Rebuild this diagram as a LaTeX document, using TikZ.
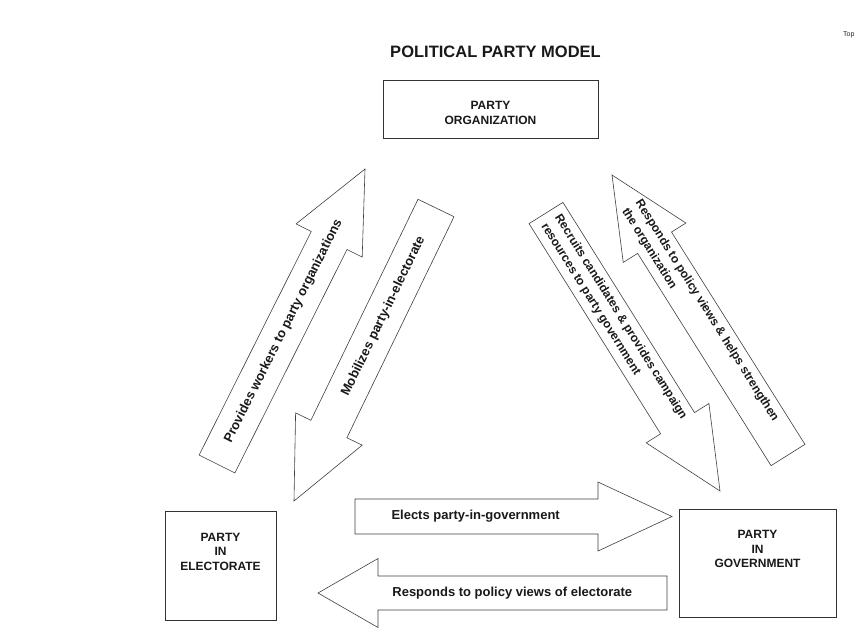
\documentclass[tikz,border=0pt]{standalone}
\usepackage{fontspec}
\setmainfont{Liberation Sans}
\usetikzlibrary{calc}

% block arrow from tail #1 to tip #2: half shaft #3, half head #4, head length #5
\newcommand\blockarrow[5]{%
  \coordinate (#1-hb) at ($(#2)!#5!(#1)$);
  \draw[bigarrow] ($(#1)!#3!90:(#2)$) -- ($(#1-hb)!#3!90:(#2)$)
    -- ($(#1-hb)!#4!90:(#2)$) -- (#2) -- ($(#1-hb)!#4!-90:(#2)$)
    -- ($(#1-hb)!#3!-90:(#2)$) -- ($(#1)!#3!-90:(#2)$) -- cycle;
}

\begin{document}
\begin{tikzpicture}[x=1pt, y=-1pt,
    partybox/.style={draw=black!80, line width=0.8pt, inner sep=0pt},
    boxtext/.style={font=\fontsize{12}{14.5}\selectfont\bfseries, align=center, text=black!90},
    arrowtext/.style={font=\fontsize{13}{14}\selectfont\bfseries, text=black!90},
    twolines/.style={font=\fontsize{12}{16}\selectfont\bfseries, align=left},
    bigarrow/.style={draw=black!75, line width=0.6pt, line join=miter}]
    \path[use as bounding box, fill=white] (0,0) rectangle (856,638);

    % --- sizes of the slanted arrows ---
    \def\shaft{20pt}
    \def\head{37pt}
    \def\hlen{80pt}

    % --- title ---
    \node[font=\fontsize{16.5}{18}\selectfont\bfseries, text=black!90] (title) at (495.5,52) {POLITICAL PARTY MODEL};
    \node[font=\fontsize{7}{8}\selectfont, anchor=west, inner sep=0pt, text=black!85] (top) at (843,35) {Top};

    % --- the three parts of the party ---
    \node[partybox, minimum width=215pt, minimum height=58pt] (org) at (490.5,109) {};
    \node[boxtext] (org-text) at ([yshift=-4pt]org.center) {PARTY\\ORGANIZATION};

    \node[partybox, minimum width=111pt, minimum height=109pt] (elec) at (220.5,565.5) {};
    \node[boxtext] (elec-text) at ([yshift=14pt]elec.center) {PARTY\\IN\\ELECTORATE};

    \node[partybox, minimum width=157pt, minimum height=108pt] (gov) at (757.5,563) {};
    \node[boxtext] (gov-text) at ([yshift=14pt]gov.center) {PARTY\\IN\\GOVERNMENT};

    % --- ends of the arrows ---
    \coordinate (pw) at (217,464);   \coordinate (pw-tip) at (365,169);
    \coordinate (mb) at (436,208);   \coordinate (mb-tip) at (294,501);
    \coordinate (rc) at (546,213);   \coordinate (rc-tip) at (720,491);
    \coordinate (rp) at (788,455);   \coordinate (rp-tip) at (612,175);
    \coordinate (el) at (355,516.5); \coordinate (el-tip) at (672,516.5);
    \coordinate (re) at (667,593);   \coordinate (re-tip) at (318,593);

    % --- electorate <-> organization ---
    \blockarrow{pw}{pw-tip}{\shaft}{\head}{\hlen}
    \path (pw) -- (pw-tip) node[arrowtext, sloped, pos=0.45] (pw-text) {Provides workers to party organizations};
    \blockarrow{mb}{mb-tip}{\shaft}{\head}{\hlen}
    \path (mb) -- (mb-tip) node[arrowtext, sloped, pos=0.37] (mb-text) {Mobilizes party-in-electorate};

    % --- organization <-> government ---
    \blockarrow{rc}{rc-tip}{\shaft}{\head}{\hlen}
    \path (rc) -- (rc-tip) node[arrowtext, twolines, sloped, pos=0.39] (rc-text)
        {Recruits candidates \& provides campaign\\resources to party government};
    \blockarrow{rp}{rp-tip}{\shaft}{\head}{\hlen}
    \path (rp) -- (rp-tip) node[arrowtext, twolines, sloped, pos=0.5] (rp-text)
        {Responds to policy views \& helps strengthen\\the organization};

    % --- electorate <-> government ---
    \blockarrow{el}{el-tip}{17.5pt}{34.5pt}{74pt}
    \path (el) -- (el-tip) node[arrowtext, anchor=west, pos=0.104] (el-text) {Elects party-in-government};
    \blockarrow{re}{re-tip}{17pt}{34.5pt}{60pt}
    \path (re) -- (re-tip) node[arrowtext, anchor=west, pos=0.797] (re-text) {Responds to policy views of electorate};
\end{tikzpicture}
\end{document}
